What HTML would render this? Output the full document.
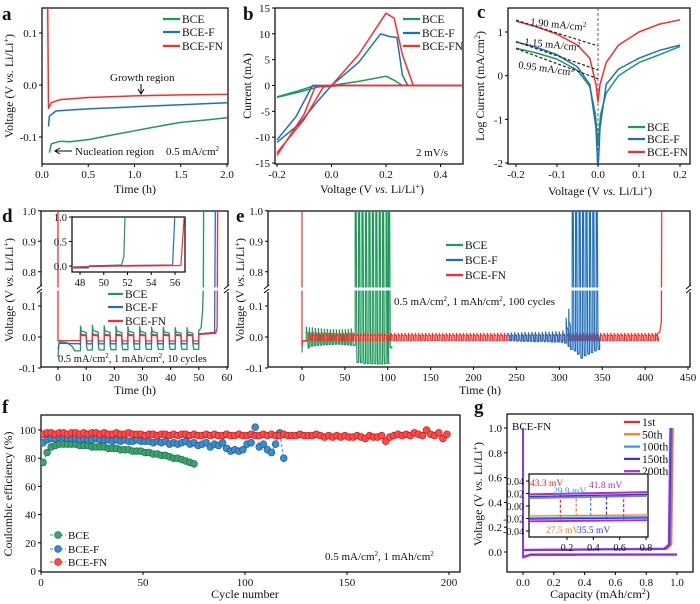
<!DOCTYPE html>
<html><head><meta charset="utf-8">
<style>
html,body{margin:0;padding:0;background:#fff;}
svg{display:block;font-family:"Liberation Serif",serif;}
text{fill:#111;}
</style></head>
<body>
<svg id="fig" width="700" height="604" viewBox="0 0 700 604" xmlns="http://www.w3.org/2000/svg"></svg>
<script>
// ===== DATA =====
const C_BCE = '#1b9a5a', C_F = '#1f6fbf', C_FN = '#ff2a2a';
// panel a
const aBCE = [[0.08,-0.13],[0.1,-0.113],[0.2,-0.108],[0.3,-0.109],[0.5,-0.105],[0.7,-0.098],[1.0,-0.088],[1.3,-0.078],[1.5,-0.072],[1.8,-0.067],[2.0,-0.063]];
const aF = [[0.07,-0.08],[0.08,-0.06],[0.15,-0.05],[0.3,-0.048],[0.5,-0.046],[1.0,-0.042],[1.5,-0.038],[2.0,-0.034]];
const aFN = [[0.06,0.2],[0.07,-0.045],[0.1,-0.034],[0.2,-0.028],[0.5,-0.024],[1.0,-0.021],[1.5,-0.019],[2.0,-0.018]];
// panel b
const bBCE = [[-0.2,-2.2],[-0.12,-1.0],[-0.06,0],[0,0],[0.1,0.8],[0.2,1.8],[0.23,1.0],[0.26,0],[0.5,0],[0.26,0],[0,0],[-0.05,-0.3],[-0.12,-1.3],[-0.2,-2.3]];
const bF = [[-0.2,-10.5],[-0.13,-6],[-0.07,0],[0,0],[0.1,4.5],[0.18,10],[0.21,9.5],[0.24,9.3],[0.26,2],[0.28,0],[0.5,0],[0.28,0],[0,0],[-0.05,-3],[-0.12,-7.5],[-0.2,-11]];
const bFN = [[-0.2,-13.5],[-0.1,-5.5],[-0.06,-0.3],[0,0],[0.1,6],[0.2,14],[0.23,13],[0.26,6],[0.3,0],[0.5,0],[0.3,0],[0.03,0],[-0.03,-0.3],[-0.1,-6.5],[-0.2,-13]];
// panel c
const cBCE = [[-0.2,0.63],[-0.15,0.52],[-0.1,0.38],[-0.05,0.12],[-0.02,-0.25],[-0.006,-0.9],[0,-1.6],[0.006,-0.9],[0.02,-0.4],[0.05,0.0],[0.1,0.3],[0.15,0.48],[0.2,0.67]];
const cF = [[-0.2,0.77],[-0.15,0.65],[-0.1,0.48],[-0.05,0.2],[-0.02,-0.2],[-0.005,-1.2],[-0.001,-2],[0.001,-2],[0.005,-1.2],[0.02,-0.2],[0.05,0.15],[0.1,0.4],[0.15,0.58],[0.2,0.7]];
const cFN = [[-0.2,1.25],[-0.15,1.12],[-0.1,0.95],[-0.05,0.7],[-0.02,0.4],[-0.005,-0.2],[0,-0.6],[0.005,-0.2],[0.02,0.3],[0.05,0.7],[0.1,1.0],[0.15,1.18],[0.2,1.28]];
const cTangents = [[[-0.2,1.27],[0,0.68]],[[-0.2,0.78],[0,0.13]],[[-0.2,0.62],[0,-0.07]]];
// panel d
const dCycleT = [8,12.2,16.4,20.6,24.8,29,33.2,37.4,41.6,45.8];
const dBCEhi = [0.035,0.038,0.036,0.035,0.034,0.033,0.032,0.031,0.03,0.03];
const dBCElo = [-0.042,-0.042,-0.041,-0.041,-0.04,-0.04,-0.04,-0.04,-0.04,-0.04];
const dFhi = [0.015,0.015,0.015,0.015,0.015,0.015,0.015,0.015,0.015,0.015];
const dFlo = [-0.022,-0.022,-0.022,-0.022,-0.022,-0.022,-0.022,-0.022,-0.022,-0.022];
const dFNhi = [0.01,0.01,0.01,0.01,0.01,0.01,0.01,0.01,0.01,0.01];
const dFNlo = [-0.013,-0.013,-0.013,-0.013,-0.013,-0.013,-0.013,-0.013,-0.013,-0.013];
const dPeriod = 4.2;
const dBCEpre = [[0,-0.065],[0.4,-0.016],[3,-0.018],[5,-0.03],[6,-0.045],[8,-0.045]];
const dFpre = [[0,-0.04],[0.4,-0.02],[8,-0.022]];
const dFNpre = [[0,1.2],[0,-0.012],[8,-0.012]];
const dBCEpost = [[50,0.02],[50.8,0.03],[51.3,0.08],[51.6,0.5],[51.8,1.2]];
const dFpost = [[50,0.01],[55.6,0.015],[56,1.2]];
const dFNpost = [[50,0.008],[56,0.012],[56.5,0.03],[56.8,1.2]];
const dInBCE = [[47.3,-0.04],[48.7,-0.04],[48.8,0],[51.5,0.02],[51.7,0.2],[51.8,1.1]];
const dInF = [[47.3,-0.03],[48.7,-0.03],[48.8,0.005],[55.8,0.02],[56,1.1]];
const dInFN = [[47.3,-0.02],[48.8,-0.01],[56.5,0.01],[56.8,1.1]];
// panel e
const eBCEt = [5,8.5,12,15.5,19,22.5,26,29.5,33,36.5,40,43.5,47,50.5,54,57.5,62,66,70,74,78,82,86,90,94,98,101];
const eBCEhi = [0.032,0.03,0.03,0.028,0.027,0.026,0.025,0.025,0.024,0.024,0.023,0.023,0.024,0.024,0.025,0.026,1.5,1.5,1.5,1.5,1.5,1.5,1.5,1.5,1.5,1.5,1.5];
const eBCElo = [-0.035,-0.03,-0.028,-0.027,-0.026,-0.025,-0.025,-0.024,-0.024,-0.023,-0.023,-0.024,-0.025,-0.025,-0.026,-0.027,-0.082,-0.083,-0.085,-0.085,-0.086,-0.086,-0.087,-0.087,-0.086,-0.085,-0.035];
const eFt = [240,244,248,252,256,260,264,268,272,276,280,284,288,292,296,300,304,308,311,315,319,323,327,331,335,339,343];
const eFhi = [0.012,0.013,0.014,0.013,0.014,0.015,0.014,0.015,0.015,0.014,0.015,0.016,0.015,0.016,0.017,0.016,0.02,0.06,0.09,1.5,1.5,1.5,1.5,1.5,1.5,1.5,1.5];
const eFlo = [-0.012,-0.012,-0.013,-0.013,-0.014,-0.014,-0.014,-0.015,-0.015,-0.014,-0.015,-0.015,-0.016,-0.016,-0.016,-0.017,-0.02,-0.03,-0.04,-0.045,-0.055,-0.068,-0.06,-0.055,-0.05,-0.045,-0.04];
const eFNstart = 8, eFNend = 414, eFNperiod = 4, eFNhi = 0.012, eFNlo = -0.012;
// panel f
const fBCE = [77,84,88,89,90,90,90,90,90,89,89,89,88,88,88,88,87,87,87,86,86,86,85,85,85,84,84,83,83,82,82,81,80,80,79,78,77,76];
const fF = [91,93,94,94,95,95,94,94,94,93,94,93,93,94,93,93,93,92,93,92,93,92,92,93,92,92,92,91,92,91,92,90,91,90,91,92,90,91,89,90,91,88,90,89,91,87,85,86,85,86,90,91,102,88,90,86,84,90,98,80];
const fFN = [97,98,98,97,98,98,97,98,98,97,98,97,98,98,97,98,97,97,98,97,97,98,97,97,97,96,97,97,96,97,97,96,97,96,97,97,96,97,96,96,97,96,97,96,96,97,96,96,97,96,96,97,96,96,97,96,97,96,96,97,96,96,96,97,96,96,96,97,96,95,96,95,96,95,96,95,95,96,95,94,96,95,95,96,92,95,96,97,96,97,96,98,97,96,100,97,96,98,94,97];
// panel g
const gLabels = ['1st','50th','100th','150th','200th'];
const gColors = ['#ff2020','#ff7a14','#2e95ff','#3a2bff','#a52bf0'];
const gStrip = [0.018,0.012,0.013,0.015,0.019];
const gPlate = [-0.025,-0.016,-0.019,-0.021,-0.024];
const gEndCap = [0.97,0.975,0.965,0.96,0.955];
const gPlateEnd = [0.35,1.0,1.0,1.0,1.0];
const gArrowX = [0.15,0.27,0.38,0.5,0.63];
const gArrowLbl = ['43.3 mV','27.5 mV','29.9 mV','35.5 mV','41.8 mV'];

// ===== HELPERS =====
const NS='http://www.w3.org/2000/svg';
const svg=document.getElementById('fig');
function mk(tag,attrs,parent){const e=document.createElementNS(NS,tag);for(const k in attrs)e.setAttribute(k,attrs[k]);(parent||svg).appendChild(e);return e;}
function nm(e,n,inter){
 
 
 return e;}
function lin(d0,d1,p0,p1){return v=>p0+(v-d0)*(p1-p0)/(d1-d0);}
function txt(x,y,s,opts,parent){const t=mk('text',Object.assign({x:x,y:y,'font-size':11},opts||{}),parent);t.textContent=s;return t;}
let clipN=0;
function clip(L,T,R,B){const id='cp'+(clipN++);const cp=mk('clipPath',{id:id});mk('rect',{x:L,y:T,width:R-L,height:B-T},cp);const g=mk('g',{'clip-path':'url(#'+id+')'});return g;}
function poly(pts,sx,sy,color,g,name,w){const p=mk('polyline',{points:pts.map(q=>sx(q[0]).toFixed(1)+','+sy(q[1]).toFixed(1)).join(' '),fill:'none',stroke:color,'stroke-width':w||1.5,'stroke-linejoin':'round'},g);nm(p,name);return p;}
function axes(o){
 const g=mk('g');nm(g,o.name+'-axes');
 const r=mk('rect',{x:o.L,y:o.T,width:o.R-o.L,height:o.B-o.T,fill:'none',stroke:'#000','stroke-width':1.2},g);nm(r,o.name+'-frame');
 o.xt.forEach((v,i)=>{const x=o.sx(v);mk('line',{x1:x,x2:x,y1:o.B,y2:o.B+3,stroke:'#000'},g);const t=txt(x,o.B+14,o.xl[i],{'text-anchor':'middle','font-size':o.fs||11},g);nm(t,o.name+'-x-tick-label');});
 o.yt.forEach((v,i)=>{const y=o.sy(v);mk('line',{x1:o.L-3,x2:o.L,y1:y,y2:y,stroke:'#000'},g);const t=txt(o.L-5,y+4,o.yl[i],{'text-anchor':'end','font-size':o.fs||11},g);nm(t,o.name+'-y-tick-label');});
 return g;}
function ytitle(x,y,html,name){const t=mk('text',{x:0,y:0,'font-size':12,'text-anchor':'middle',transform:'translate('+x+','+y+') rotate(-90)'});t.innerHTML=html;nm(t,name);}
function xtitle(x,y,html,name){const t=mk('text',{x:x,y:y,'font-size':12,'text-anchor':'middle'});t.innerHTML=html;nm(t,name);}
function letter(x,y,s){const t=txt(x,y,s,{'font-size':19,'font-weight':'bold'});nm(t,'panel-label-'+s);}
function legendLine(x,y,color,label,name,len){const l=mk('line',{x1:x,x2:x+(len||17),y1:y,y2:y,stroke:color,'stroke-width':2.2});nm(l,name+'-swatch');const t=txt(x+(len||17)+2,y+4,label,{'font-size':11.5});nm(t,name+'-label');}
const VLI='Voltage (V <tspan font-style="italic">vs.</tspan> Li/Li<tspan baseline-shift="super" font-size="8">+</tspan>)';

// ===== PANEL A =====
(function(){
 const L=42,R=228,T=8,B=164;
 const sx=lin(0,2,42,227), sy=lin(-0.1,0.1,137,33);
 axes({name:'panel-a',L,R,T,B,sx,sy,xt:[0,0.5,1,1.5,2],xl:['0.0','0.5','1.0','1.5','2.0'],yt:[-0.1,0,0.1],yl:['-0.1','0.0','0.1']});
 const g=clip(L,T,R,B);
 poly(aBCE,sx,sy,C_BCE,g,'bce-line');poly(aF,sx,sy,C_F,g,'bce-f-line');poly(aFN,sx,sy,C_FN,g,'bce-fn-line');
 legendLine(163,19,C_BCE,'BCE','legend-bce');legendLine(163,32,C_F,'BCE-F','legend-bce-f');legendLine(163,46,C_FN,'BCE-FN','legend-bce-fn');
 nm(txt(110,81,'Growth region',{'font-size':11}),'growth-region-note');
 nm(mk('path',{d:'M141 84 L141 93 M138 89 L141 94 L144 89',stroke:'#000',fill:'none'}),'growth-arrow');
 nm(mk('path',{d:'M72 151 L56 151 M60 148 L55 151 L60 154',stroke:'#000',fill:'none'}),'nucleation-arrow');
 nm(txt(75,155,'Nucleation region',{'font-size':11}),'nucleation-region-note');
 const t=txt(166,155,'',{'font-size':11});t.innerHTML='0.5 mA/cm<tspan baseline-shift="super" font-size="7">2</tspan>';nm(t,'current-density-note');
 letter(2,20,'a');ytitle(13,86,VLI,'y-axis-title');xtitle(135,193,'Time (h)','x-axis-title');
})();

// ===== PANEL B =====
(function(){
 const L=275,R=463,T=8,B=164;
 const sx=lin(-0.2,0.2,277,386), sy=lin(-15,15,163,8);
 axes({name:'panel-b',L,R,T,B,sx,sy,xt:[-0.2,0,0.2,0.4],xl:['-0.2','0.0','0.2','0.4'],yt:[-15,-10,-5,0,5,10,15],yl:['-15','-10','-5','0','5','10','15']});
 const g=clip(L,T,R,B);
 poly(bBCE,sx,sy,C_BCE,g,'bce-cv');poly(bF,sx,sy,C_F,g,'bce-f-cv');poly(bFN,sx,sy,C_FN,g,'bce-fn-cv');
 legendLine(403,19,C_BCE,'BCE','legend-bce');legendLine(403,33,C_F,'BCE-F','legend-bce-f');legendLine(403,46,C_FN,'BCE-FN','legend-bce-fn');
 nm(txt(416,156,'2 mV/s',{'font-size':11}),'scan-rate-note');
 letter(243,20,'b');ytitle(251,86,'Current (mA)','y-axis-title');
 xtitle(372,193,'Voltage  (V <tspan font-style="italic">vs.</tspan> Li/Li<tspan baseline-shift="super" font-size="8">+</tspan>)','x-axis-title');
})();

// ===== PANEL C =====
(function(){
 const L=508,R=690,T=8,B=164;
 const sx=lin(-0.2,0.2,516,680), sy=lin(-2,1,163,32);
 axes({name:'panel-c',L,R,T,B,sx,sy,xt:[-0.2,-0.1,0,0.1,0.2],xl:['-0.2','-0.1','0.0','0.1','0.2'],yt:[-2,-1,0,1],yl:['-2','-1','0','1']});
 const g=clip(L,T,R,B);
 nm(mk('line',{x1:sx(0),x2:sx(0),y1:T,y2:B,stroke:'#666','stroke-dasharray':'3,2'},g),'zero-line');
 poly(cBCE,sx,sy,C_BCE,g,'bce-tafel');poly(cF,sx,sy,C_F,g,'bce-f-tafel');poly(cFN,sx,sy,C_FN,g,'bce-fn-tafel');
 cTangents.forEach(tg=>{const l=mk('line',{x1:sx(tg[0][0]),y1:sy(tg[0][1]),x2:sx(tg[1][0]),y2:sy(tg[1][1]),stroke:'#222','stroke-dasharray':'3,2','stroke-width':1.2},g);nm(l,'tafel-fit');});
 const lab=[[530,25,'1.90',6],[524,45,'1.15',6],[518,68,'0.95',8]];
 lab.forEach(a=>{const t=mk('text',{x:a[0],y:a[1],'font-size':10.5,transform:'rotate('+a[3]+' '+a[0]+' '+a[1]+')'});t.innerHTML=a[2]+' mA/cm<tspan baseline-shift="super" font-size="7">2</tspan>';nm(t,'exchange-current-label');});
 legendLine(628,127,C_BCE,'BCE','legend-bce');legendLine(628,139,C_F,'BCE-F','legend-bce-f');legendLine(628,152,C_FN,'BCE-FN','legend-bce-fn');
 letter(477,18,'c');ytitle(484,86,'Log Current (mA/cm<tspan baseline-shift="super" font-size="8">2</tspan>)','y-axis-title');
 xtitle(600,195,VLI,'x-axis-title');
})();

// broken y scale for d,e
function brokenY(v){ if(v>=0.75) return 287-(v-0.75)*305; if(v<=0.15) return 337-v*310; return 290.5-(v-0.15)/0.6*3.5; }
function cycleWave(pre,ts,his,los,period,post){
 const pts=pre.slice();
 ts.forEach((t,i)=>{const h=his[i],l=los[i];
  pts.push([t,pts[pts.length-1][1]]);pts.push([t,h]);pts.push([t+0.3,h>0.2?h:h*0.55]);pts.push([t+period/2,h>0.2?0.01:h*0.4]);
  pts.push([t+period/2,l*0.6]);pts.push([t+period/2+0.3,l]);pts.push([t+period,l]);});
 return pts.concat(post||[]);}
function drawBreak(L,R,name){
 const g=mk('g');nm(g,name);
 mk('rect',{x:L+1,y:287.5,width:R-L-2,height:3,fill:'#fff'},g);
 [L,R].forEach(x=>{mk('rect',{x:x-3,y:286,width:6,height:6,fill:'#fff'},g);mk('path',{d:`M${x-4} 289 L${x+1} 285 M${x-4} 293 L${x+1} 289`,stroke:'#000','stroke-width':1},g);});
}

// ===== PANEL D =====
(function(){
 const L=41,R=228,T=211,B=367;
 const sx=lin(0,60,58,227), sy=brokenY;
 axes({name:'panel-d',L,R,T,B,sx,sy,xt:[0,10,20,30,40,50,60],xl:['0','10','20','30','40','50','60'],yt:[-0.1,0,0.1,0.8,0.9,1.0],yl:['-0.1','0.0','0.1','0.8','0.9','1.0']});
 const g=clip(L,T,R,B);
 poly(cycleWave(dBCEpre,dCycleT,dBCEhi,dBCElo,dPeriod,dBCEpost),sx,sy,C_BCE,g,'bce-voltage',1.3);
 poly(cycleWave(dFpre,dCycleT,dFhi,dFlo,dPeriod,dFpost),sx,sy,C_F,g,'bce-f-voltage',1.3);
 poly(cycleWave(dFNpre,dCycleT,dFNhi,dFNlo,dPeriod,dFNpost),sx,sy,C_FN,g,'bce-fn-voltage',1.3);
 drawBreak(L,R,'d-axis-break');
 // inset
 const iL=72,iR=185,iT=217,iB=272;const ix=lin(48,56,80,175), iy=lin(0,1,266,217);
 mk('rect',{x:iL,y:iT,width:iR-iL,height:iB-iT,fill:'#fff'});
 axes({name:'d-inset',L:iL,R:iR,T:iT,B:iB,sx:ix,sy:iy,xt:[48,50,52,54,56],xl:['48','50','52','54','56'],yt:[0,0.5,1],yl:['0.0','0.5','1.0'],fs:10.5});
 const gi=clip(iL,iT,iR,iB);
 poly(dInBCE,ix,iy,C_BCE,gi,'inset-bce',1.2);poly(dInF,ix,iy,C_F,gi,'inset-bce-f',1.2);poly(dInFN,ix,iy,C_FN,gi,'inset-bce-fn',1.2);
 legendLine(108,294,C_BCE,'BCE','legend-bce',15);legendLine(108,307,C_F,'BCE-F','legend-bce-f',15);legendLine(108,321,C_FN,'BCE-FN','legend-bce-fn',15);
 const t=txt(58,362,'',{'font-size':10.5});t.innerHTML='0.5 mA/cm<tspan baseline-shift="super" font-size="7">2</tspan>, 1 mAh/cm<tspan baseline-shift="super" font-size="7">2</tspan>, 10 cycles';nm(t,'condition-note');
 letter(2,222,'d');ytitle(13,290,VLI,'y-axis-title');xtitle(135,394,'Time (h)','x-axis-title');
})();

// ===== PANEL E =====
(function(){
 const L=268,R=690,T=211,B=367;
 const sx=lin(0,450,302,688), sy=brokenY;
 axes({name:'panel-e',L,R,T,B,sx,sy,xt:[0,50,100,150,200,250,300,350,400,450],xl:['0','50','100','150','200','250','300','350','400','450'],yt:[-0.1,0,0.1,0.8,0.9,1.0],yl:['-0.1','0.0','0.1','0.8','0.9','1.0']});
 const g=clip(L,T,R,B);
 poly(cycleWave([[0,-0.05],[0.5,-0.012],[5,-0.015]],eBCEt,eBCEhi,eBCElo,3.7,[[104.7,-0.03]]),sx,sy,C_BCE,g,'bce-voltage',1.2);
 const fnT=[],fnH=[],fnL=[];for(let t=eFNstart;t<eFNend;t+=eFNperiod){fnT.push(t);fnH.push(eFNhi);fnL.push(eFNlo);}
 poly(cycleWave([[0,1.5],[0,-0.03],[1,-0.012],[eFNstart,-0.012]],fnT,fnH,fnL,eFNperiod,[[eFNend,0.01],[417,0.015],[419,0.05],[420,1.5]]),sx,sy,C_FN,g,'bce-fn-voltage',1.2);
 poly(cycleWave([[eFt[0],0]],eFt,eFhi,eFlo,4,[[347,0]]),sx,sy,C_F,g,'bce-f-voltage',1.2);
 drawBreak(L,R,'e-axis-break');
 legendLine(446,245,C_BCE,'BCE','legend-bce',17);legendLine(446,260,C_F,'BCE-F','legend-bce-f',17);legendLine(446,275,C_FN,'BCE-FN','legend-bce-fn',17);
 const t=txt(394,305,'',{'font-size':11});t.innerHTML='0.5 mA/cm<tspan baseline-shift="super" font-size="7">2</tspan>, 1 mAh/cm<tspan baseline-shift="super" font-size="7">2</tspan>, 100 cycles';nm(t,'condition-note');
 letter(236,222,'e');ytitle(244,290,VLI,'y-axis-title');xtitle(480,394,'Time (h)','x-axis-title');
})();

// ===== PANEL F =====
(function(){
 const L=41,R=460,T=415,B=572;
 const sx=lin(0,200,41,449), sy=lin(0,100,571,430);
 axes({name:'panel-f',L,R,T,B,sx,sy,xt:[0,50,100,150,200],xl:['0','50','100','150','200'],yt:[0,20,40,60,80,100],yl:['0','20','40','60','80','100']});
 const g=clip(L,T,R,B);
 function series(vals,step,color,dark,name){
  const pts=vals.map((v,i)=>[1+i*step,v]);
  const pl=mk('polyline',{points:pts.map(p=>sx(p[0])+','+sy(p[1])).join(' '),fill:'none',stroke:color,'stroke-width':1,'stroke-dasharray':'3,2'},g);nm(pl,name+'-line');
  pts.forEach(p=>{const c=mk('circle',{cx:sx(p[0]),cy:sy(p[1]),r:3.4,fill:color,stroke:dark,'stroke-width':0.7},g);nm(c,name+'-point');});
 }
 series(fBCE,2,'#3aa36e','#16754a','bce');series(fF,2,'#3a8ccc','#1b5e95','bce-f');series(fFN,2,'#ff4a4a','#c81818','bce-fn');
 [['#3aa36e','#16754a','BCE',535],['#3a8ccc','#1b5e95','BCE-F',549],['#ff4a4a','#c81818','BCE-FN',562]].forEach(a=>{
  const l=mk('line',{x1:50,x2:66,y1:a[3],y2:a[3],stroke:a[0],'stroke-dasharray':'3,2'});nm(l,'legend-swatch');
  const c=mk('circle',{cx:58,cy:a[3],r:3.4,fill:a[0],stroke:a[1],'stroke-width':0.7});nm(c,'legend-marker');
  nm(txt(68,a[3]+4,a[2],{'font-size':11}),'legend-label');});
 const t=txt(325,560,'',{'font-size':11});t.innerHTML='0.5 mA/cm<tspan baseline-shift="super" font-size="7">2</tspan>, 1 mAh/cm<tspan baseline-shift="super" font-size="7">2</tspan>';nm(t,'condition-note');
 letter(2,413,'f');ytitle(12,494,'Coulombic efficiency (%)','y-axis-title');xtitle(245,598,'Cycle number','x-axis-title');
})();

// ===== PANEL G =====
(function(){
 const L=507,R=693,T=414,B=572;
 const sx=lin(0,1,523,677), sy=lin(0,1,552,428);
 axes({name:'panel-g',L,R,T,B,sx,sy,xt:[0,0.2,0.4,0.6,0.8,1.0],xl:['0.0','0.2','0.4','0.6','0.8','1.0'],yt:[0,0.2,0.4,0.6,0.8,1.0],yl:['0.0','0.2','0.4','0.6','0.8','1.0']});
 const g=clip(L,T,R,B);
 gLabels.forEach((lb,i)=>{
  const plate=[[0,1.0],[0,gPlate[i]-0.02],[0.05,gPlate[i]],[gPlateEnd[i],gPlate[i]]];
  const strip=[[0,gStrip[i]],[gEndCap[i]-0.04,gStrip[i]+0.01],[gEndCap[i]-0.01,0.06],[gEndCap[i],1.0]];
  poly(plate,sx,sy,gColors[i],g,'plating-'+lb,1.5);poly(strip,sx,sy,gColors[i],g,'stripping-'+lb,1.5);
  legendLine(624,422+i*12.3,gColors[i],lb,'legend-'+lb,16);
 });
 nm(txt(512,430,'BCE-FN',{'font-size':11}),'sample-label');
 // inset
 const iL=529,iR=648,iT=474,iB=537;const ix=lin(0.2,0.8,567,646), iy=lin(-0.04,0.04,531,481);
 const bg=mk('rect',{x:iL,y:iT,width:iR-iL,height:iB-iT,fill:'#fff'});nm(bg,'inset-background');
 axes({name:'g-inset',L:iL,R:iR,T:iT,B:iB,sx:ix,sy:iy,xt:[0.2,0.4,0.6,0.8],xl:['0.2','0.4','0.6','0.8'],yt:[-0.04,-0.02,0,0.02,0.04],yl:['-0.04','-0.02','0.00','0.02','0.04'],fs:10});
 const gi=clip(iL,iT,iR,iB);
 gLabels.forEach((lb,i)=>{
  poly([[-0.1,gStrip[i]],[0.9,gStrip[i]+0.004]],ix,iy,gColors[i],gi,'inset-strip-'+lb,1.3);
  poly([[-0.1,gPlate[i]],[0.9,gPlate[i]+0.002]],ix,iy,gColors[i],gi,'inset-plate-'+lb,1.3);
  const x=ix(gArrowX[i]);const l=mk('line',{x1:x,x2:x,y1:iy(gStrip[i]),y2:iy(gPlate[i]),stroke:gColors[i],'stroke-width':1.3,'stroke-dasharray':'3,2'},gi);nm(l,'overpotential-arrow-'+lb);
 });
 const lp=[[530,486,0],[546,533,1],[553,494,2],[577,533,3],[589,488,4]];
 lp.forEach(a=>{nm(txt(a[0],a[1],gArrowLbl[a[2]],{'font-size':9.5,fill:gColors[a[2]],style:'fill:'+gColors[a[2]]}),'overpotential-label');});
 letter(474,413,'g');ytitle(482,494,VLI,'y-axis-title');
 xtitle(600,598,'Capacity (mAh/cm<tspan baseline-shift="super" font-size="8">2</tspan>)','x-axis-title');
})();
</script>
</body></html>
